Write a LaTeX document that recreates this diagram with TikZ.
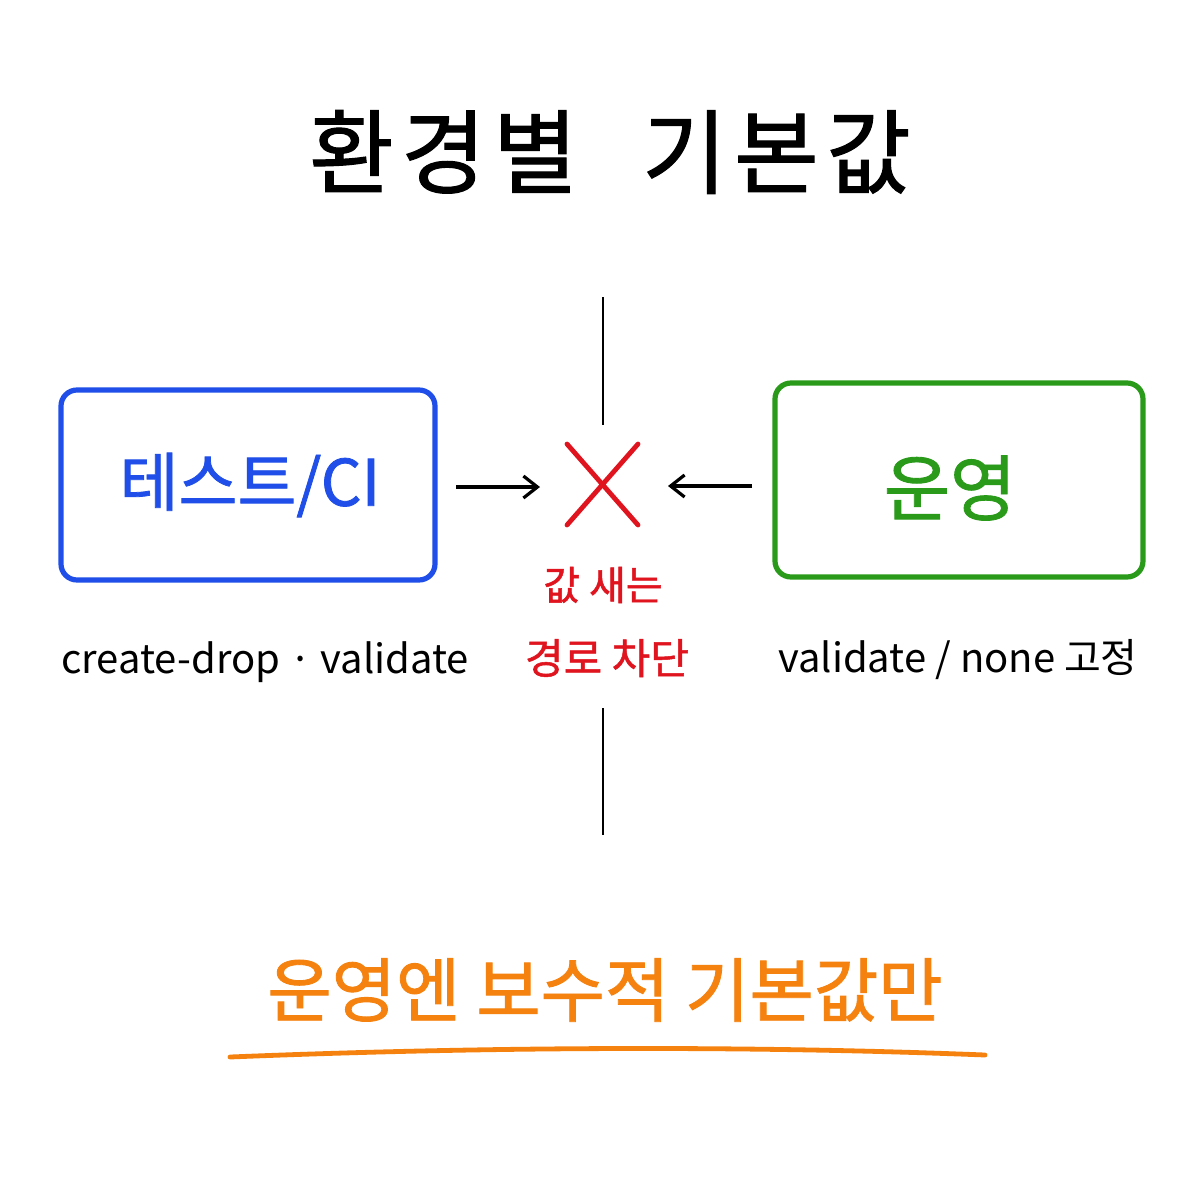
\documentclass[tikz,border=0pt]{standalone}
\usepackage{fontspec}
\setmainfont{Noto Sans CJK KR}
\newfontfamily\heavy[FakeBold=1.2]{Noto Sans CJK KR}
\usetikzlibrary{arrows.meta}
\definecolor{cblue}{HTML}{1F4FE8}
\definecolor{cgreen}{HTML}{2A9A1A}
\definecolor{cred}{HTML}{E0141E}
\definecolor{corange}{HTML}{F5820F}
\begin{document}
\begin{tikzpicture}[x=0.5pt,y=-0.5pt,
  boxstyle/.style={draw, line width=2.6pt, rounded corners=8pt},
  arrowstyle/.style={draw, line width=1.6pt, -{Straight Barb[length=7pt,width=11pt]}},
  divider/.style={draw, line width=1.4pt},
  lbl/.style={font=\fontsize{20}{24}\selectfont, inner sep=0pt}]
\useasboundingbox[fill=white] (0,0) rectangle (1200,1200);
% title
\node[inner sep=0pt, font=\heavy\fontsize{46}{54}\selectfont] (title) at (610,152) {환\hspace{0.08em}경\hspace{0.08em}별\hspace{0.7em}기\hspace{0.08em}본\hspace{0.08em}값};
% boxes
\node[boxstyle, draw=cblue, minimum width=187pt, minimum height=95pt] (test) at (248,485) {};
\node[text=cblue, font=\heavy\fontsize{32}{38}\selectfont, inner sep=0pt] (testtxt) at (250,485) {테스트/CI};
\node[boxstyle, draw=cgreen, minimum width=184pt, minimum height=97pt] (prod) at (959,480) {};
\node[text=cgreen, font=\heavy\fontsize{36}{42}\selectfont, inner sep=0pt] (prodtxt) at (950,488) {운영};
% red X
\coordinate (x) at (603,485);
\draw[cred, line width=2.4pt, line cap=round] (567,444) -- (638,525) (638,444) -- (567,525);
% arrows
\coordinate (la0) at (456,487);
\coordinate (la) at (540,487);
\coordinate (ra0) at (752,486);
\coordinate (ra) at (668,486);
\draw[arrowstyle] (la0) -- (la);
\draw[arrowstyle] (ra0) -- (ra);
% dividers
\coordinate (vt1) at (603,297); \coordinate (vt2) at (603,425);
\coordinate (vb1) at (603,708); \coordinate (vb2) at (603,835);
\draw[divider] (vt1) -- (vt2);
\draw[divider] (vb1) -- (vb2);
% red labels
\node[text=cred, font=\heavy\fontsize{20}{24}\selectfont, inner sep=0pt] (r1) at (603,585) {값 새는};
\node[text=cred, font=\heavy\fontsize{21}{24}\selectfont, inner sep=0pt] (r2) at (607,658) {경로 차단};
% sub labels
\node[lbl] (tl) at (265,662) {create-drop · validate};
\node[lbl] (pl) at (958,660) {validate / none 고정};
% bottom
\node[text=corange, font=\heavy\fontsize{35}{42}\selectfont, inner sep=0pt] (bot) at (605,990) {운영엔 보수적 기본값만};
\coordinate (u1) at (230,1057);
\coordinate (u2) at (985,1055);
\draw[corange, line width=2.4pt, line cap=round] (u1) .. controls (500,1046) and (760,1046) .. (u2);
\end{tikzpicture}
\end{document}
